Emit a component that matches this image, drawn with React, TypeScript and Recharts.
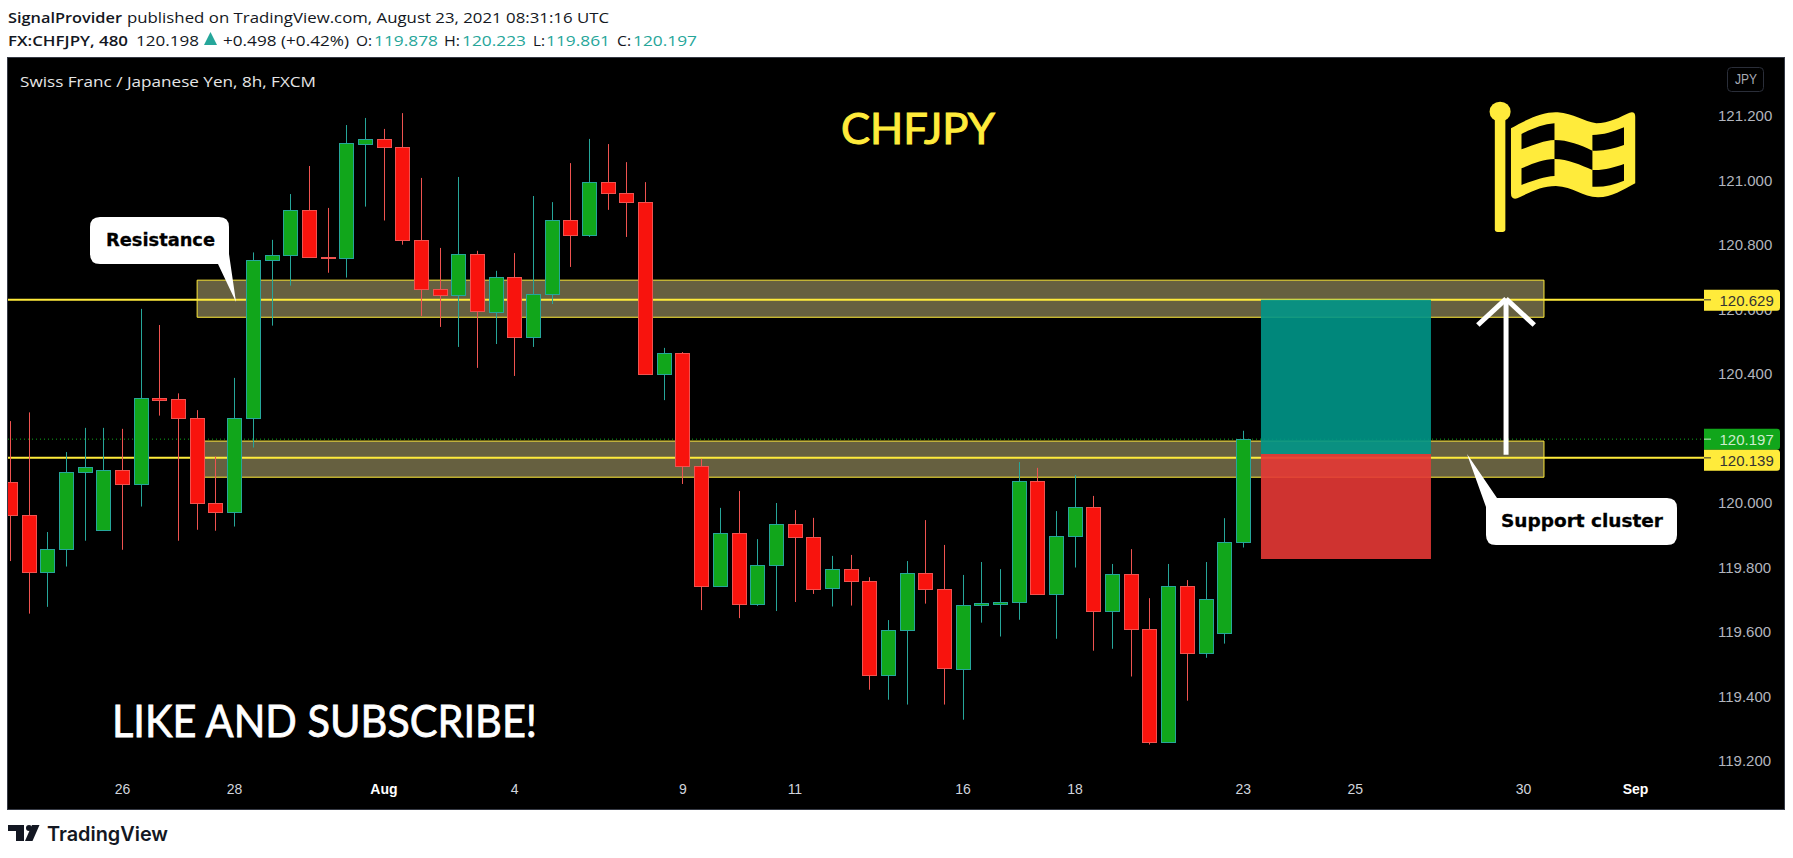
import React from 'react';
import { Bar, ComposedChart, ReferenceArea, ReferenceLine, XAxis, YAxis } from 'recharts';

// CHF/JPY 8h candles
const opens = [
  120.063, 119.961, 119.783, 119.854, 120.093, 119.913, 120.1, 120.056, 120.324, 120.321,
  120.262, 119.998, 119.969, 120.261, 120.751, 120.766, 120.907, 120.761, 120.757, 121.113,
  121.127, 121.102, 120.814, 120.662, 120.642, 120.77, 120.592, 120.699, 120.512, 120.645,
  120.876, 120.828, 120.993, 120.959, 120.931, 120.397, 120.463, 120.113, 119.74, 119.905,
  119.684, 119.805, 119.933, 119.893, 119.733, 119.793, 119.756, 119.464, 119.603, 119.781,
  119.731, 119.485, 119.681, 119.687, 119.69, 120.066, 119.715, 119.895, 119.986, 119.662,
  119.778, 119.607, 119.256, 119.741, 119.532, 119.594, 119.878,
];
const closes = [
  119.96, 119.783, 119.855, 120.094, 120.11, 120.1, 120.056, 120.324, 120.319, 120.261,
  119.997, 119.969, 120.262, 120.752, 120.767, 120.907, 120.76, 120.757, 121.114, 121.127,
  121.101, 120.813, 120.661, 120.642, 120.77, 120.592, 120.699, 120.512, 120.646, 120.876,
  120.828, 120.993, 120.958, 120.93, 120.397, 120.463, 120.112, 119.74, 119.905, 119.684,
  119.806, 119.933, 119.892, 119.733, 119.793, 119.755, 119.464, 119.604, 119.781, 119.73,
  119.485, 119.682, 119.688, 119.692, 120.066, 119.715, 119.896, 119.986, 119.662, 119.778,
  119.606, 119.256, 119.741, 119.532, 119.7, 119.877, 120.197,
];
const highs = [
  120.253, 120.28, 119.909, 120.157, 120.232, 120.232, 120.229, 120.601, 120.551, 120.339,
  120.287, 120.143, 120.387, 120.776, 120.815, 120.957, 121.044, 120.914, 121.171, 121.193,
  121.159, 121.208, 121.007, 120.79, 121.01, 120.781, 120.719, 120.774, 120.951, 120.932,
  121.053, 121.128, 121.112, 121.056, 120.994, 120.48, 120.467, 120.136, 119.984, 120.036,
  119.887, 119.999, 119.977, 119.953, 119.835, 119.838, 119.769, 119.636, 119.819, 119.946,
  119.869, 119.776, 119.816, 119.794, 120.126, 120.108, 119.974, 120.086, 120.021, 119.81,
  119.856, 119.704, 119.81, 119.76, 119.816, 119.952, 120.223,
];
const lows = [
  119.819, 119.656, 119.677, 119.802, 119.882, 119.913, 119.854, 119.988, 120.27, 119.882,
  119.916, 119.913, 119.926, 120.171, 120.549, 120.673, 120.76, 120.713, 120.698, 120.918,
  120.875, 120.8, 120.579, 120.545, 120.483, 120.418, 120.492, 120.393, 120.483, 120.616,
  120.731, 120.824, 120.908, 120.824, 120.397, 120.318, 120.058, 119.667, 119.74, 119.642,
  119.68, 119.664, 119.692, 119.717, 119.678, 119.681, 119.42, 119.389, 119.374, 119.687,
  119.374, 119.327, 119.628, 119.585, 119.637, 119.715, 119.578, 119.799, 119.541, 119.547,
  119.461, 119.25, 119.256, 119.386, 119.519, 119.563, 119.861,
];

const priceTicks = [119.2, 119.4, 119.6, 119.8, 120, 120.2, 120.4, 120.6, 120.8, 121, 121.2];
const timeTicks = [6, 12, 20, 27, 36, 42, 51, 57, 66, 72, 81, 87];
const timeLabels = ['26', '28', 'Aug', '4', '9', '11', '16', '18', '23', '25', '30', 'Sep'];
const boldLabels = ['Aug', 'Sep'];

const resistanceZone = [120.575, 120.69];
const supportZone = [120.079, 120.191];
const zoneBars = [10, 82.1];
const levels = [120.629, 120.139];
const lastPrice = 120.197;
const riskBars = [66.95, 76.05];
const riskLevels = [120.629, 120.151, 119.825];
const arrowBar = [78.56, 80.07, 81.58];
const arrowPrices = [120.149, 120.632, 120.551];

const barDomain = [-0.125, 90.72];
const priceDomain = [119.1432, 121.3789];

const rows = opens.map((open, i) => ({
  i,
  open,
  close: closes[i],
  high: highs[i],
  low: lows[i],
  range: [lows[i], highs[i]],
}));

const UI = '"Open Sans", sans-serif';
const AXIS = '"Liberation Sans", sans-serif';
const YELLOW = '#ffeb3b';

function Candle(props: any) {
  const { x, y, width, height, payload } = props;
  const up = payload.close >= payload.open;
  const perUnit = height / (payload.high - payload.low);
  const top = y + (payload.high - Math.max(payload.open, payload.close)) * perUnit;
  const bodyH = Math.max(Math.abs(payload.close - payload.open) * perUnit, 1);
  const cx = Math.floor(x + width / 2) + 0.5;
  const edge = up ? '#26a69a' : '#ef5350';
  return (
    <g>
      <line x1={cx} x2={cx} y1={y} y2={y + height} stroke={edge} strokeWidth={1} />
      <rect
        x={cx - 7}
        y={Math.round(top) + 0.5}
        width={14}
        height={Math.max(Math.round(bodyH), 1)}
        fill={up ? '#11a61b' : '#f8130d'}
        stroke={edge}
        strokeWidth={1}
      />
    </g>
  );
}

function TimeTick(props: any) {
  const { x, y, payload } = props;
  const label = timeLabels[timeTicks.indexOf(payload.value)];
  const bold = boldLabels.includes(label);
  return (
    <text
      x={x}
      y={y + 7}
      textAnchor="middle"
      fontFamily={AXIS}
      fontSize={14}
      fontWeight={bold ? 700 : 400}
      fill={bold ? '#ffffff' : '#d1d4dc'}
    >
      {label}
    </text>
  );
}

function priceTag(value: number, bg: string, color: string, shift: number) {
  return (props: any) => {
    const { viewBox } = props;
    const left = viewBox.x + viewBox.width - 1;
    const mid = viewBox.y + shift;
    return (
      <g>
        <path
          d={`M${left} ${mid - 10.5} H${left + 73} Q${left + 76} ${mid - 10.5} ${left + 76} ${mid - 7.5} V${mid + 7.5} Q${left + 76} ${mid + 10.5} ${left + 73} ${mid + 10.5} H${left} Z`}
          fill={bg}
        />
        <line x1={left} x2={left + 7} y1={viewBox.y} y2={viewBox.y} stroke={color} />
        <text x={left + 15.5} y={mid + 5.5} fontFamily={AXIS} fontSize={15} fill={color}>
          {value.toFixed(3)}
        </text>
      </g>
    );
  };
}

function Txt(props: any) {
  const { x, y, w, size = 15, weight = 400, fill = '#131722', font = UI, thick = 0, children } = props;
  return (
    <text
      x={x}
      y={y}
      textLength={w}
      lengthAdjust="spacingAndGlyphs"
      fontFamily={font}
      fontSize={size}
      fontWeight={weight}
      fill={fill}
      stroke={thick ? fill : 'none'}
      strokeWidth={thick}
    >
      {children}
    </text>
  );
}

function Flag() {
  return (
    <g transform="translate(1240 60) scale(0.351 0.3333)" fill={YELLOW}>
      <circle cx={741} cy={155} r={30} />
      <rect x={726} y={160} width={30} height={356} rx={8} />
      <path d="M772 205 C830 170 870 155 905 157 C950 160 980 185 1015 190 C1050 190 1085 170 1110 158 Q1126 153 1126 170 L1126 370 C1090 390 1060 412 1020 412 C975 410 950 380 900 378 C860 378 830 395 790 415 Q772 420 772 400 Z" />
      <g fill="#000000">
        <path d="M802 222 C835 205 865 192 896 190 L896 240 C865 242 835 255 802 268 Z" />
        <path d="M802 325 C835 310 865 298 896 297 L896 348 C865 350 835 362 802 375 Z" />
        <path d="M896 240 C935 240 970 255 1004 272 L1004 330 C970 315 935 297 896 297 Z" />
        <path d="M1004 225 C1035 225 1065 215 1094 202 L1094 255 C1065 265 1035 275 1004 272 Z" />
        <path d="M1004 330 C1035 332 1065 322 1094 312 L1094 362 C1065 375 1035 382 1004 380 Z" />
      </g>
    </g>
  );
}

function Overlay() {
  return (
    <svg width={1793} height={858} style={{ position: 'absolute', left: 0, top: 0, pointerEvents: 'none' }}>
      <Txt x={20} y={87} w={296} size={15} fill="#e6e6e6">Swiss Franc / Japanese Yen, 8h, FXCM</Txt>
      <Txt x={841} y={144} w={154} size={43} fill={YELLOW} font="Lato, sans-serif" thick={1}>CHFJPY</Txt>
      <Txt x={112} y={737} w={425} size={44} fill="#ffffff" font="Lato, sans-serif" thick={0.8}>LIKE AND SUBSCRIBE!</Txt>
      <rect x={1727.5} y={67.5} width={36} height={24} rx={4} fill="none" stroke="#2a2e39" />
      <Txt x={1735} y={84} w={22} size={14} fill="#a8abb5" font={AXIS}>JPY</Txt>

      <path
        d="M100 217 H219 Q229 217 229 227 V254 L236 302 L218 264 H100 Q90 264 90 254 V227 Q90 217 100 217 Z"
        fill="#ffffff"
      />
      <Txt x={106} y={246} w={109} size={18} weight={700} fill="#000000" font='"DejaVu Sans", sans-serif' thick={0.3}>Resistance</Txt>
      <path
        d="M1497 498 H1667 Q1677 498 1677 508 V535 Q1677 545 1667 545 H1496 Q1486 545 1486 535 V507 L1467 454 Z"
        fill="#ffffff"
      />
      <Txt x={1501} y={527} w={162} size={18} weight={700} fill="#000000" font='"DejaVu Sans", sans-serif' thick={0.3}>Support cluster</Txt>
      <Flag />
    </svg>
  );
}

function Header() {
  return (
    <svg width={1793} height={58} style={{ position: 'absolute', left: 0, top: 0 }}>
      <Txt x={8} y={23} w={114} weight={600}>SignalProvider</Txt>
      <Txt x={127} y={23} w={482}>published on TradingView.com, August 23, 2021 08:31:16 UTC</Txt>
      <Txt x={8} y={46} w={120} weight={600}>FX:CHFJPY, 480</Txt>
      <Txt x={136} y={46} w={63}>120.198</Txt>
      <path d="M204 45 L210.5 32 L217 45 Z" fill="#26a69a" />
      <Txt x={223} y={46} w={126}>+0.498 (+0.42%)</Txt>
      <Txt x={356} y={46} w={16}>O:</Txt>
      <Txt x={374} y={46} w={64} fill="#26a69a">119.878</Txt>
      <Txt x={444} y={46} w={16}>H:</Txt>
      <Txt x={462} y={46} w={64} fill="#26a69a">120.223</Txt>
      <Txt x={533} y={46} w={12}>L:</Txt>
      <Txt x={546} y={46} w={64} fill="#26a69a">119.861</Txt>
      <Txt x={617} y={46} w={14}>C:</Txt>
      <Txt x={633} y={46} w={64} fill="#26a69a">120.197</Txt>
    </svg>
  );
}

function Logo() {
  return (
    <svg width={200} height={40} style={{ position: 'absolute', left: 0, top: 818 }}>
      <g fill="#131722">
        <path d="M8 7 H24 V23 H16 V13 H8 Z" />
        <circle cx={29} cy={10} r={3} />
        <path d="M32 7 H39.5 L32.5 23 H25 Z" />
      </g>
      <Txt x={47} y={22.5} w={121} size={20} weight={600} font="Inter, sans-serif">TradingView</Txt>
    </svg>
  );
}

// price tags sit above the axis labels, so they get their own layer with the same scales
function TagLayer() {
  return (
    <div style={{ position: 'absolute', left: 0, top: 0 }}>
      <ComposedChart
        width={1793}
        height={858}
        data={rows}
        margin={{ top: 58, left: 8, right: 88, bottom: 79 }}
      >
        <XAxis dataKey="i" type="number" scale="linear" domain={barDomain} allowDataOverflow hide />
        <YAxis type="number" domain={priceDomain} allowDataOverflow hide />
        <ReferenceLine y={lastPrice} stroke="none" label={priceTag(lastPrice, '#11a61b', '#cdeccd', 0)} />
        <ReferenceLine y={levels[1]} stroke="none" label={priceTag(levels[1], YELLOW, '#333333', 2.5)} />
        <ReferenceLine y={levels[0]} stroke="none" label={priceTag(levels[0], YELLOW, '#333333', 0.5)} />
      </ComposedChart>
    </div>
  );
}

export default function App() {
  return (
    <div style={{ position: 'absolute', left: 0, top: 0, width: 1793, height: 858, background: '#ffffff', overflow: 'hidden' }}>
      <Header />
      <div style={{ position: 'absolute', left: 7, top: 57, width: 1776, height: 751, background: '#000000', border: '1px solid #363a45' }} />
      <div style={{ position: 'absolute', left: 0, top: 0 }}>
        <ComposedChart
          width={1793}
          height={858}
          data={rows}
          margin={{ top: 58, left: 8, right: 9, bottom: 49 }}
        >
          <XAxis
            dataKey="i"
            type="number"
            scale="linear"
            domain={barDomain}
            allowDataOverflow
            ticks={timeTicks}
            height={30}
            axisLine={false}
            tickLine={false}
            tick={TimeTick}
            interval={0}
          />
          <YAxis
            orientation="right"
            type="number"
            domain={priceDomain}
            allowDataOverflow
            ticks={priceTicks}
            width={79}
            axisLine={false}
            tickLine={false}
            tickMargin={7}
            interval={0}
            tick={{ fill: '#b2b5be', fontSize: 15, fontFamily: AXIS }}
            tickFormatter={(v: number) => v.toFixed(3)}
          />
          <ReferenceArea x1={zoneBars[0]} x2={zoneBars[1]} y1={resistanceZone[0]} y2={resistanceZone[1]} fill="#666040" fillOpacity={1} stroke={YELLOW} strokeWidth={1} zIndex={50} />
          <ReferenceArea x1={zoneBars[0]} x2={zoneBars[1]} y1={supportZone[0]} y2={supportZone[1]} fill="#666040" fillOpacity={1} stroke={YELLOW} strokeWidth={1} zIndex={50} />
          <ReferenceLine y={lastPrice} stroke="#11a61b" strokeDasharray="1 3" zIndex={60} />
          {levels.map((v) => (
            <ReferenceLine key={v} y={v} stroke={YELLOW} strokeWidth={2} zIndex={60} />
          ))}
          <Bar dataKey="range" barSize={15} shape={Candle} isAnimationActive={false} />
          <ReferenceArea x1={riskBars[0]} x2={riskBars[1]} y1={riskLevels[1]} y2={riskLevels[0]} fill="#009688" fillOpacity={0.9} stroke="none" zIndex={700} />
          <ReferenceArea x1={riskBars[0]} x2={riskBars[1]} y1={riskLevels[2]} y2={riskLevels[1]} fill="#e53935" fillOpacity={0.9} stroke="none" zIndex={700} />
          <ReferenceLine segment={[{ x: arrowBar[1], y: arrowPrices[0] }, { x: arrowBar[1], y: arrowPrices[1] }]} stroke="#ffffff" strokeWidth={5} zIndex={800} />
          <ReferenceLine segment={[{ x: arrowBar[0], y: arrowPrices[2] }, { x: arrowBar[1], y: arrowPrices[1] }]} stroke="#ffffff" strokeWidth={5} zIndex={800} />
          <ReferenceLine segment={[{ x: arrowBar[2], y: arrowPrices[2] }, { x: arrowBar[1], y: arrowPrices[1] }]} stroke="#ffffff" strokeWidth={5} zIndex={800} />
        </ComposedChart>
      </div>
      <TagLayer />
      <Overlay />
      <Logo />
    </div>
  );
}
